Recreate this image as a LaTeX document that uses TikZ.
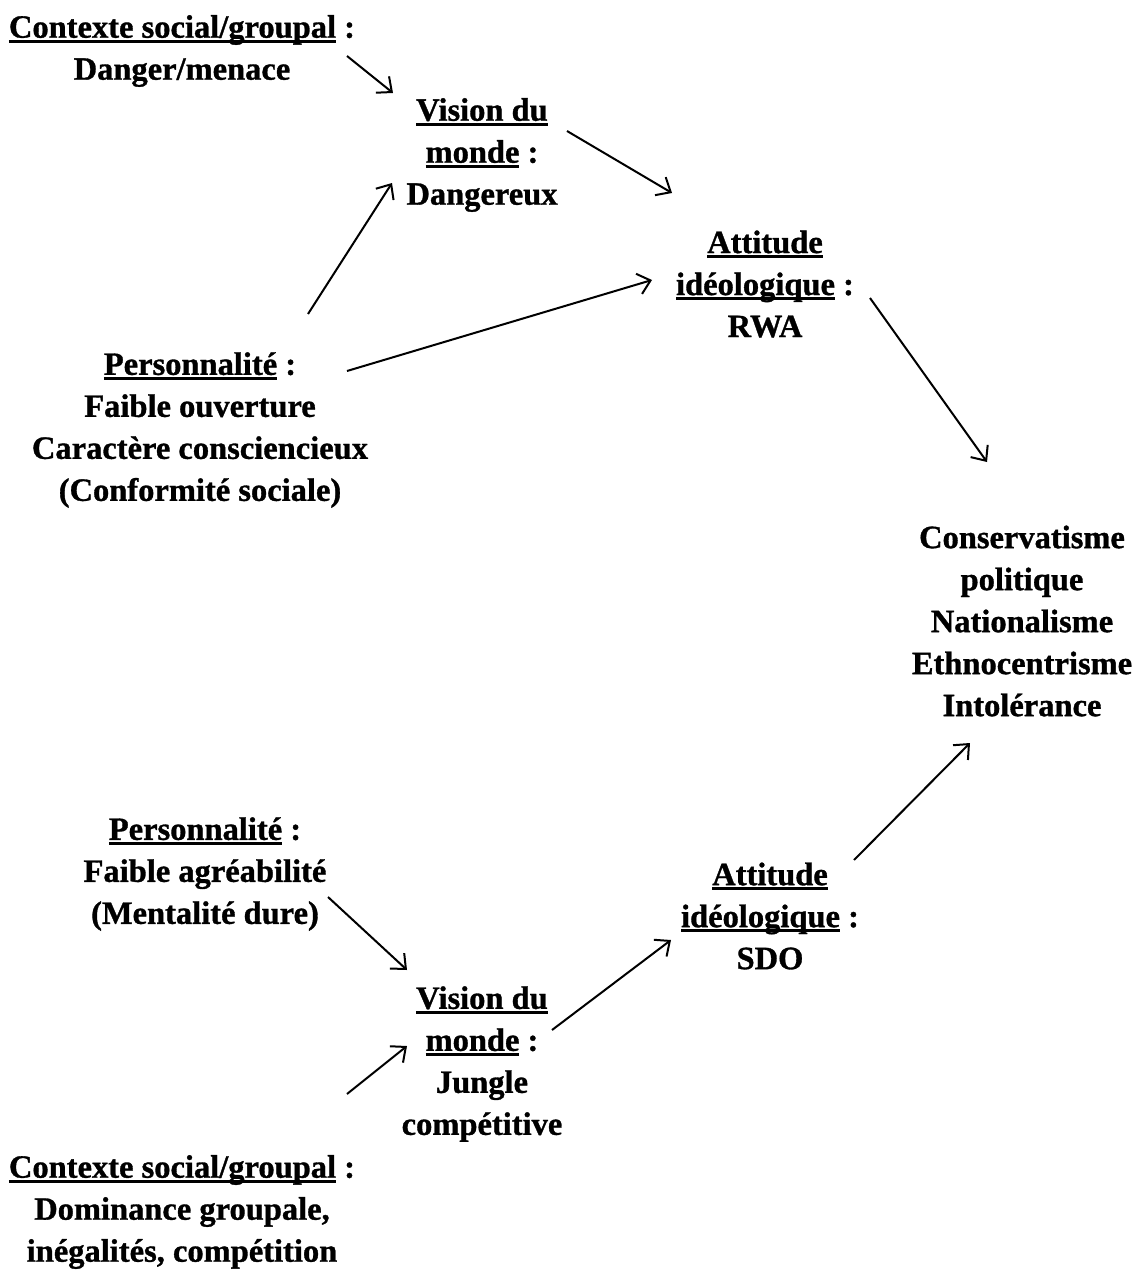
\documentclass[tikz,border=0pt]{standalone}
\usepackage{fontspec}
\setmainfont{Liberation Serif}[BoldFeatures={FakeBold=1}]
\usetikzlibrary{arrows.meta}
\newcommand\myul[1]{\setbox0\hbox{#1}\rlap{\rule[-5pt]{\wd0}{3pt}}\box0{}}
\tikzset{
  lbl/.style={align=center, font=\fontsize{32.5}{42}\selectfont\bfseries, inner sep=0pt},
  arr/.style={draw, line width=2pt, -{Straight Barb[length=12pt,width=21pt,line width=2pt]}}
}
\begin{document}
\begin{tikzpicture}[x=1pt,y=-1pt]
\useasboundingbox (0,0) rectangle (1138,1271);
\node[lbl] (ctx1) at (182,51) {\myul{Contexte social/groupal} :\\Danger/menace};
\node[lbl] (vis1) at (482,155) {\myul{Vision du}\\\myul{monde} :\\Dangereux};
\node[lbl] (att1) at (765,284) {\myul{Attitude}\\\myul{idéologique} :\\RWA};
\node[lbl] (pers1) at (200,430) {\myul{Personnalité} :\\Faible ouverture\\Caractère consciencieux\\(Conformité sociale)};
\node[lbl] (cons) at (1022,621) {Conservatisme\\politique\\Nationalisme\\Ethnocentrisme\\Intolérance};
\node[lbl] (pers2) at (205,874) {\myul{Personnalité} :\\Faible agréabilité\\(Mentalité dure)};
\node[lbl] (att2) at (770,916) {\myul{Attitude}\\\myul{idéologique} :\\SDO};
\node[lbl] (vis2) at (482,1064) {\myul{Vision du}\\\myul{monde} :\\Jungle\\compétitive};
\node[lbl] (ctx2) at (182,1212) {\myul{Contexte social/groupal} :\\Dominance groupale,\\inégalités, compétition};
% arrow end points
\coordinate (a1s) at (347,56);   \coordinate (a1e) at (393,93);
\coordinate (a2s) at (567,131);  \coordinate (a2e) at (672,193);
\coordinate (a3s) at (308,314);  \coordinate (a3e) at (392,183);
\coordinate (a4s) at (347,371);  \coordinate (a4e) at (652,280);
\coordinate (a5s) at (870,298);  \coordinate (a5e) at (987,462);
\coordinate (a6s) at (328,897);  \coordinate (a6e) at (407,970);
\coordinate (a7s) at (347,1094); \coordinate (a7e) at (407,1046);
\coordinate (a8s) at (552,1030); \coordinate (a8e) at (671,940);
\coordinate (a9s) at (854,860);  \coordinate (a9e) at (970,743);
\draw[arr] (a1s) -- (a1e);
\draw[arr] (a2s) -- (a2e);
\draw[arr] (a3s) -- (a3e);
\draw[arr] (a4s) -- (a4e);
\draw[arr] (a5s) -- (a5e);
\draw[arr] (a6s) -- (a6e);
\draw[arr] (a7s) -- (a7e);
\draw[arr] (a8s) -- (a8e);
\draw[arr] (a9s) -- (a9e);
\end{tikzpicture}
\end{document}
